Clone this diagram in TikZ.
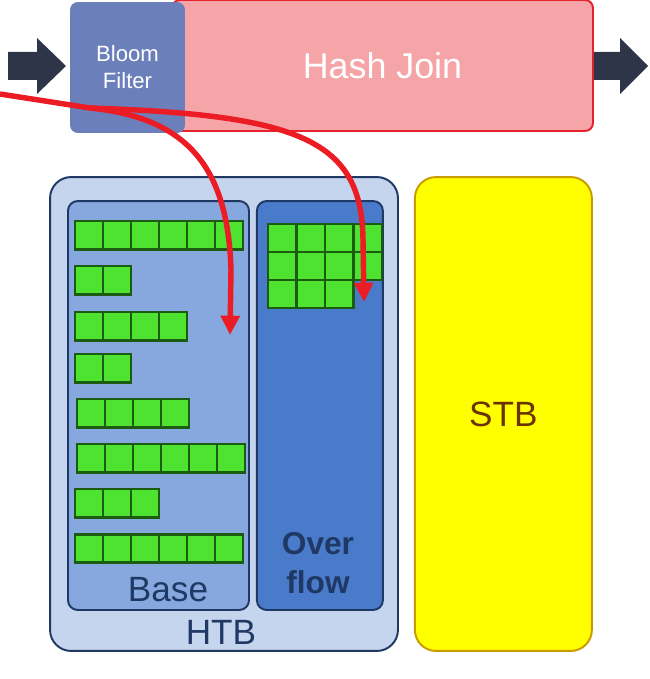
\documentclass[tikz,border=0pt]{standalone}
\usepackage{fontspec}
\setmainfont{Liberation Sans}
\usepackage{xcolor}
\usepackage{tikz}
\usetikzlibrary{arrows.meta,positioning,calc}
\definecolor{joinRed}{HTML}{E8222C}
\definecolor{joinPink}{HTML}{F5A5A8}
\definecolor{bloomBlue}{HTML}{6B7FBB}
\definecolor{htbFill}{HTML}{C5D5EE}
\definecolor{htbNavy}{HTML}{1F3864}
\definecolor{baseFill}{HTML}{87A8DE}
\definecolor{ovfFill}{HTML}{4A7BCB}
\definecolor{cellGreen}{HTML}{4EE231}
\definecolor{cellDark}{HTML}{1C5C10}
\definecolor{stbGold}{HTML}{C89B00}
\definecolor{stbYellow}{HTML}{FFFF00}
\definecolor{stbBrown}{HTML}{6B3300}
\definecolor{flowNavy}{HTML}{2F3549}
\definecolor{probeRed}{HTML}{EC1C24}

\begin{document}
\begin{tikzpicture}[x=0.02cm, y=-0.02cm,
  joinbox/.style={rectangle, rounded corners=4.5pt, draw=joinRed, line width=1.1pt, fill=joinPink, minimum width=8.42cm, minimum height=2.62cm, text=white, font=\fontsize{20.4}{24}\selectfont},
  bloombox/.style={rectangle, rounded corners=4.5pt, fill=bloomBlue, minimum width=2.3cm, minimum height=2.62cm, align=center, text=white, font=\fontsize{12.6}{15.3}\selectfont},
  table/.style={rectangle, rounded corners=12pt, draw=htbNavy, line width=1.1pt, minimum height=9.48cm},
  part/.style={rectangle, rounded corners=5.5pt, draw=htbNavy, line width=1.1pt, minimum height=8.18cm},
  cell/.style={rectangle, draw=cellDark, line width=1.7pt, fill=cellGreen, minimum width=0.56cm, minimum height=0.57cm, outer sep=0pt, anchor=north west},
  lbl/.style={text=htbNavy, font=\fontsize{20}{24}\selectfont, align=center},
  blockarrow/.style={fill=flowNavy},
  probe/.style={-{Triangle[length=11pt, width=10.5pt]}, line width=3.1pt, draw=probeRed}
]
\useasboundingbox (0,0) rectangle (649,679);
% build side
\node[table, fill=htbFill, minimum width=6.96cm] (htb) at (224,414) {};
\node[part, fill=baseFill, minimum width=3.62cm] (base) at (158.5,405.5) {};
\node[part, fill=ovfFill, minimum width=2.52cm, right=0.12cm of base] (ovf) {};
\node[table, draw=stbGold, fill=stbYellow, minimum width=3.54cm, right=0.30cm of htb, text=stbBrown, font=\fontsize{20}{24}\selectfont] (stb) {STB};
\node[lbl] (htblbl) at (221,632) {HTB};
\node[lbl] (baselbl) at (168,590) {Base};
\node[lbl, font=\fontsize{18}{22.5}\selectfont\bfseries] (ovflbl) at (318,563) {Over\\flow};
% base buckets
\foreach \y/\n/\x [count=\r] in {221/6/75, 266/2/75, 312/4/75, 354/2/75, 399/4/77, 444/6/77, 489/3/75, 534/6/75}
  \foreach \c in {1,...,\n}
    \node[cell] (b\r-\c) at ({\x+(\c-1)*28},\y) {};
% overflow buckets
\foreach \y/\n [count=\r] in {224/4, 252/4, 280/3}
  \foreach \c in {1,...,\n}
    \node[cell, minimum width=0.57cm, minimum height=0.56cm] (o\r-\c) at ({268+(\c-1)*28.5},\y) {};
% probe side
\node[joinbox] (join) at (382.5,65.5) {Hash Join};
\node[bloombox] (bloom) at (127.5,67.5) {Bloom\\Filter};
\fill[blockarrow] (8,52) -- (37,52) -- (37,38) -- (66,66) -- (37,94) -- (37,80) -- (8,80) -- cycle;
\fill[blockarrow] (join.east |- 0,52) -- (620,52) -- (620,38) -- (648,66) -- (620,94) -- (620,80) -- (join.east |- 0,80) -- cycle;
% probe paths
\coordinate (src) at (0,94);
\coordinate (fork) at (90,108);
\coordinate (basetip) at (230,335);
\coordinate (ovftip) at (364,302);
\draw[probe] (src) -- (fork) .. controls (300,115) and (362,140) .. (363,240) -- (ovftip);
\draw[probe] (fork) .. controls (190,118) and (228,170) .. (231,270) -- (basetip);
\end{tikzpicture}
\end{document}
